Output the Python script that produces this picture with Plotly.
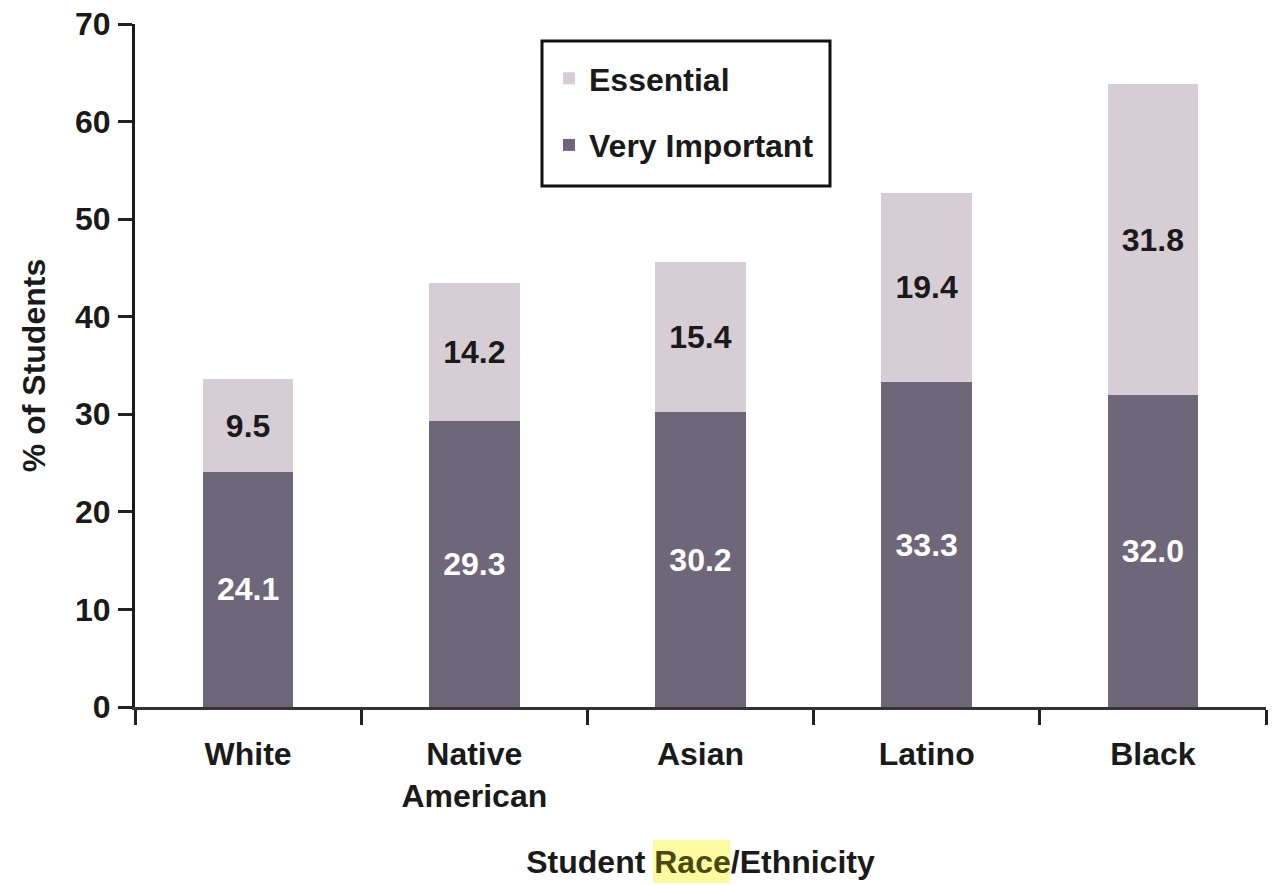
import plotly.graph_objects as go

categories = ["White", "Native<br>American", "Asian", "Latino", "Black"]
very_important = [24.1, 29.3, 30.2, 33.3, 32.0]
essential = [9.5, 14.2, 15.4, 19.4, 31.8]
y_ticks = [0, 10, 20, 30, 40, 50, 60, 70]

FONT = "Liberation Sans Narrow, Arial Narrow, Liberation Sans, Arial, sans-serif"
FS = 32
C_VI = "#6d6779"
C_E = "#d6cdd5"
TXT = "#1a1a1a"

# plot-area geometry in pixels (for paper-coordinate decorations)
L, R, T, B = 135, 1266, 24, 707
W, H = R - L, B - T


def px(x):
    return (x - L) / W


def py(y):
    return (B - y) / H


fig = go.Figure()
fig.add_trace(go.Bar(
    x=categories, y=very_important, name="Very Important",
    marker=dict(color=C_VI, line=dict(width=0)),
    text=[f"{v:.1f}" for v in very_important], textposition="inside",
    insidetextanchor="middle", textangle=0,
    textfont=dict(color="white", size=FS, family=FONT, weight="bold"),
    legendgroup="vi", legendrank=2,
))
fig.add_trace(go.Bar(
    x=categories, y=essential, name="Essential",
    marker=dict(color=C_E, line=dict(width=0)),
    text=[f"{v:.1f}" for v in essential], textposition="inside",
    insidetextanchor="middle", textangle=0,
    textfont=dict(color=TXT, size=FS, family=FONT, weight="bold"),
    legendgroup="e", legendrank=1,
))

fig.update_layout(
    width=1278, height=885,
    margin=dict(l=L, r=1278 - R, t=T, b=885 - B, autoexpand=False),
    paper_bgcolor="white", plot_bgcolor="white",
    barmode="stack", bargap=0.6,
    font=dict(family=FONT, size=FS, color=TXT, weight="bold"),
    showlegend=True,
    legend=dict(
        x=px(549), y=py(51), xanchor="left", yanchor="top",
        borderwidth=0, bgcolor="rgba(0,0,0,0)",
        traceorder="grouped", tracegroupgap=22,
        font=dict(size=FS, family=FONT, color=TXT, weight="bold"),
    ),
    xaxis=dict(
        range=[-0.5, 4.5], tickson="boundaries", ticks="outside", ticklen=15,
        tickwidth=3, tickcolor="#222222", showline=True, linecolor="#333333",
        linewidth=3, showgrid=False, zeroline=False, ticklabelstandoff=17,
        automargin=False,
        tickfont=dict(size=FS, family=FONT, color=TXT, weight="bold"),
        title=dict(text="Student <span style='color:#4a4a10'>Race</span>/Ethnicity",
                   standoff=38,
                   font=dict(size=FS, family=FONT, color=TXT, weight="bold")),
    ),
    yaxis=dict(
        range=[0, 70], tickvals=y_ticks, ticks="outside", ticklen=14,
        tickwidth=3, tickcolor="#222222", showline=True, linecolor="#1a1a1a",
        linewidth=3, showgrid=False, zeroline=False, ticklabelstandoff=1,
        automargin=False,
        tickfont=dict(size=FS, family=FONT, color=TXT, weight="bold"),
        title=dict(text="% of Students", standoff=20,
                   font=dict(size=FS, family=FONT, color=TXT, weight="bold")),
    ),
    shapes=[
        dict(type="rect", xref="paper", yref="paper", layer="below",
             x0=px(653), x1=px(730), y0=py(883), y1=py(840),
             fillcolor="#fdfba0", line=dict(width=0)),
        dict(type="rect", xref="paper", yref="paper", layer="above",
             x0=px(542), x1=px(830), y0=py(186), y1=py(41),
             fillcolor="rgba(0,0,0,0)", line=dict(color="#111111", width=3)),
    ],
)

fig.write_html("out.html")
